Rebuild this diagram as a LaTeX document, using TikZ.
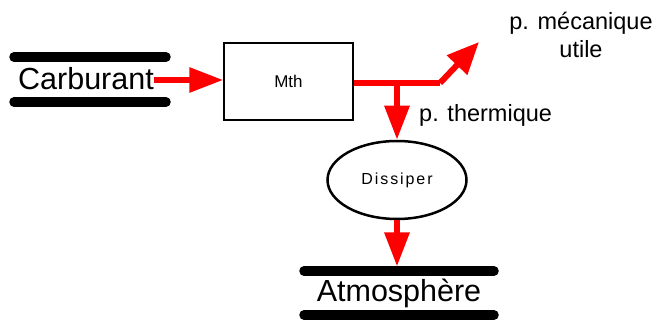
\documentclass[tikz,border=0pt]{standalone}
\usepackage{fontspec}
\setmainfont{Liberation Sans}
\usetikzlibrary{arrows.meta,shapes.geometric}
\tikzset{
  flow/.style={draw=red,line width=6pt,-{Triangle[length=34pt,width=24pt]}},
  flowline/.style={draw=red,line width=6pt},
  bar/.style={line width=9.5pt,line cap=round},
  bigtxt/.style={font=\fontsize{30.5}{32}\selectfont,inner sep=0pt},
  midtxt/.style={font=\fontsize{23.5}{28}\selectfont,inner sep=0pt,align=center},
}
\begin{document}
\begin{tikzpicture}[x=1pt,y=-1pt]
\useasboundingbox (0,0) rectangle (657,320);
% Carburant store
\coordinate (c1a) at (14,57); \coordinate (c1b) at (166,57);
\coordinate (c2a) at (14,102); \coordinate (c2b) at (166,102);
\draw[bar] (c1a) -- (c1b);
\draw[bar] (c2a) -- (c2b);
\node[bigtxt] (carb) at (86,79) {Carburant};
% Mth box
\node[draw,line width=1.5pt,minimum width=129pt,minimum height=77pt,inner sep=0pt,font=\fontsize{17}{18}\selectfont] (mth) at (288.5,81.5) {Mth};
\draw[flow] (carb.east |- 0,80) -- (mth.west |- 0,80);
% outputs
\coordinate (junc) at (397,83);
\coordinate (bend) at (440,83);
\coordinate (mtip) at (479,42);
\draw[flowline] (mth.east |- junc) -- (bend);
\draw[draw=red,line width=6pt,line join=bevel,-{Triangle[length=32pt,width=27pt]}] (bend) -- (mtip);
\node[midtxt] (meca) at (581,35) {p. mécanique\\utile};
\node[midtxt,anchor=west] (therm) at (419,115) {p. thermique};
% Dissiper
\node[draw,ellipse,line width=2.5pt,minimum width=139pt,minimum height=78pt,inner sep=0pt,font=\fontsize{16}{17}\selectfont\addfontfeature{LetterSpace=12}] (diss) at (397,180) {Dissiper};
\draw[flow] (junc) -- (diss.north);
% Atmosphere
\coordinate (a1a) at (304,271); \coordinate (a1b) at (494,271);
\coordinate (a2a) at (304,315); \coordinate (a2b) at (494,315);
\draw[bar] (a1a) -- (a1b);
\draw[bar] (a2a) -- (a2b);
\node[bigtxt] (atm) at (399,293) {Atmosphère};
\draw[flow] (diss.south) -- (397,266.5);
\end{tikzpicture}
\end{document}
